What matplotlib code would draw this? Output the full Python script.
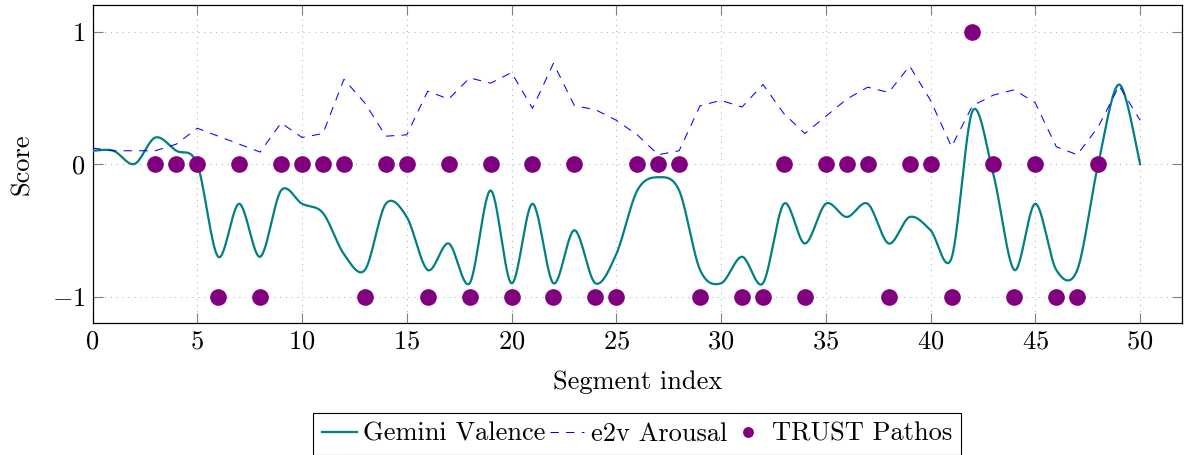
import numpy as np
import matplotlib
matplotlib.use("Agg")
import matplotlib.pyplot as plt
from matplotlib.legend_handler import HandlerLine2D

plt.rcParams['font.family'] = ['cmr10', 'DejaVu Serif']
plt.rcParams['mathtext.fontset'] = 'cm'
plt.rcParams['axes.formatter.use_mathtext'] = True
plt.rcParams['axes.unicode_minus'] = True

segments = list(range(0, 51))
gemini_valence = [0.1, 0.1, 0.0, 0.2, 0.1, 0.0, -0.7, -0.3, -0.7, -0.2,
                  -0.3, -0.37, -0.68, -0.8, -0.3, -0.4, -0.8, -0.6, -0.9, -0.2,
                  -0.9, -0.3, -0.9, -0.5, -0.9, -0.68, -0.2, -0.1, -0.2, -0.8,
                  -0.9, -0.7, -0.9, -0.3, -0.6, -0.3, -0.4, -0.3, -0.6, -0.4,
                  -0.5, -0.71, 0.4, -0.08, -0.8, -0.3, -0.8, -0.8, 0.0, 0.6,
                  0.0]
e2v_arousal = [0.12, 0.1, 0.1, 0.1, 0.15, 0.27, 0.21, 0.15, 0.09, 0.31,
               0.2, 0.23, 0.64, 0.46, 0.21, 0.22, 0.55, 0.49, 0.65, 0.61,
               0.69, 0.42, 0.76, 0.44, 0.41, 0.33, 0.22, 0.07, 0.1, 0.44,
               0.48, 0.43, 0.6, 0.38, 0.23, 0.36, 0.49, 0.58, 0.54, 0.74,
               0.48, 0.13, 0.44, 0.52, 0.56, 0.46, 0.13, 0.07, 0.28, 0.59,
               0.33]
pathos_x = [3, 4, 5, 6, 7, 8, 9, 10, 11, 12, 13, 14, 15, 16, 17, 18, 19, 20,
            21, 22, 23, 24, 25, 26, 27, 28, 29, 31, 32, 33, 34, 35, 36, 37,
            38, 39, 40, 41, 42, 43, 44, 45, 46, 47, 48]
pathos_y = [0, 0, 0, -1, 0, -1, 0, 0, 0, 0, -1, 0, 0, -1, 0, -1, 0, -1,
            0, -1, 0, -1, -1, 0, 0, 0, -1, -1, -1, 0, -1, 0, 0, 0,
            -1, 0, 0, -1, 1, 0, -1, 0, -1, -1, 0]
xticks = [0, 5, 10, 15, 20, 25, 30, 35, 40, 45, 50]
yticks = [-1, 0, 1]


def smooth_curve(x, y, k=0.16, n=30):
    x = np.asarray(x, float)
    y = np.asarray(y, float)
    m = len(x)
    xe = np.concatenate([[x[0]], x, [x[-1]]])
    ye = np.concatenate([[y[0]], y, [y[-1]]])
    xs, ys = [], []
    t = np.linspace(0, 1, n, endpoint=False)
    for i in range(m - 1):
        p0 = np.array([x[i], y[i]])
        p3 = np.array([x[i + 1], y[i + 1]])
        d0 = np.array([xe[i + 2] - xe[i], ye[i + 2] - ye[i]])
        d1 = np.array([xe[i + 3] - xe[i + 1], ye[i + 3] - ye[i + 1]])
        c1 = p0 + k * d0
        c2 = p3 - k * d1
        b = ((1 - t) ** 3)[:, None] * p0 + (3 * (1 - t) ** 2 * t)[:, None] * c1 \
            + (3 * (1 - t) * t ** 2)[:, None] * c2 + (t ** 3)[:, None] * p3
        xs.extend(b[:, 0])
        ys.extend(b[:, 1])
    xs.append(x[-1])
    ys.append(y[-1])
    return np.array(xs), np.array(ys)


class RightMarkerHandler(HandlerLine2D):
    def get_xdata(self, legend, xdescent, ydescent, width, height, fontsize):
        xdata = [-xdescent, -xdescent + width]
        xm = [-xdescent + width - 0.22 * fontsize]
        return xdata, xm


FS = 19
fig = plt.figure(figsize=(11.86, 4.55), dpi=100)
ax = fig.add_axes([92.5 / 1186, 1 - 323 / 455, (1182 - 92.5) / 1186, (323 - 5) / 455])

sx, sy = smooth_curve(segments, gemini_valence)
ax.plot(sx, sy, color='#008080', lw=1.6, label='Gemini Valence', zorder=3)
ax.plot(segments, e2v_arousal, color='#0000ff', lw=0.75, dashes=(8, 7),
        label='e2v Arousal', zorder=3)
pts, = ax.plot(pathos_x, pathos_y, 'o', color='#800080', ms=12, mec='none',
               label='TRUST Pathos', zorder=4)

ax.set_xlim(0, 52)
ax.set_ylim(-1.2, 1.2)
ax.set_xticks(xticks)
ax.set_yticks(yticks)
ax.grid(True, color='0.65', lw=0.7, linestyle=(0, (1, 5)))
ax.tick_params(direction='in', length=7, width=0.8, color='0.5',
               top=True, right=True, labelsize=FS, pad=5)
for s in ax.spines.values():
    s.set_linewidth(0.9)
ax.set_xlabel('Segment index', fontsize=FS, labelpad=12)
ax.set_ylabel('Score', fontsize=FS, labelpad=13)

leg = ax.legend(loc='upper center', bbox_to_anchor=(0.5, -0.283), ncol=3,
                fontsize=FS, frameon=True, fancybox=False, edgecolor='black',
                framealpha=1, borderaxespad=0, handlelength=1.3,
                handletextpad=0.25, columnspacing=0.15, borderpad=0.35,
                markerscale=0.65, handler_map={pts: RightMarkerHandler(numpoints=1)})
leg.get_frame().set_linewidth(0.8)

fig.savefig('out.png', dpi=100)
